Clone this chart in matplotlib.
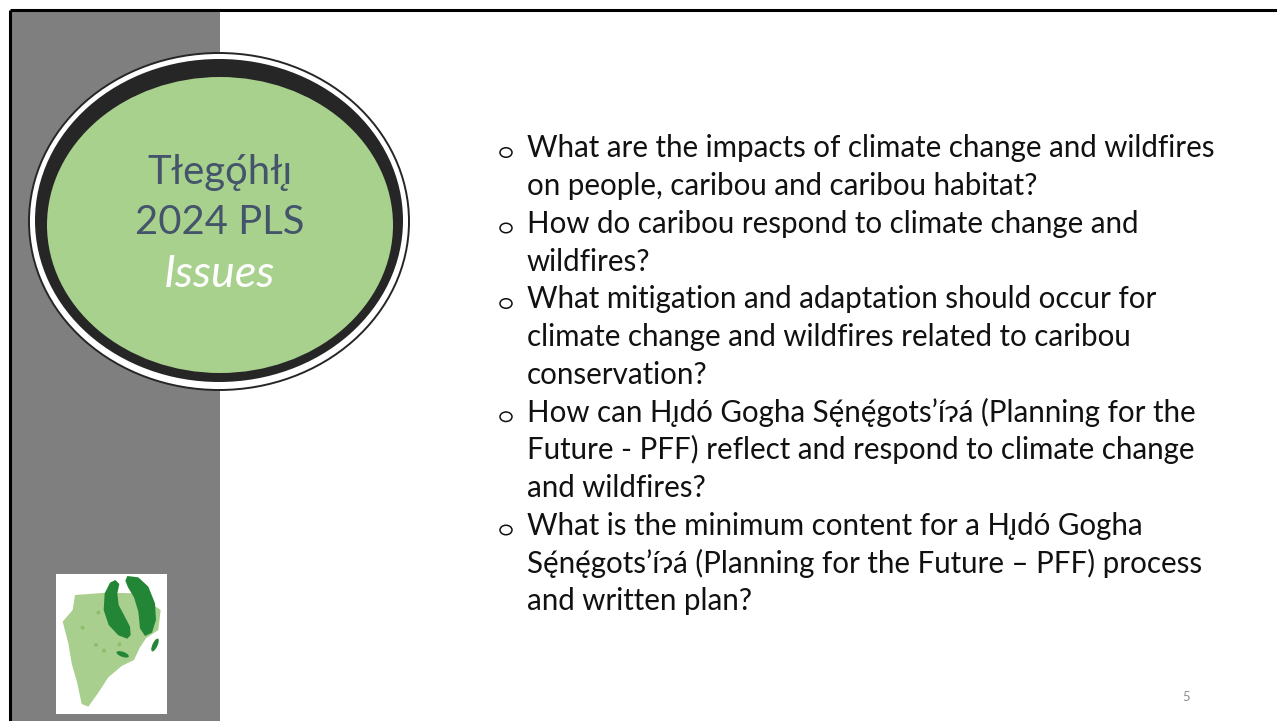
import matplotlib.pyplot as plt
from matplotlib.patches import Rectangle, Ellipse, Polygon

# slide content
title_lines = ["Tłeg\u01eb\u0301hłı\u0328", "2024 PLS"]
title_italic = "Issues"
body_lines = [
    "What are the impacts of climate change and wildfires",
    "on people, caribou and caribou habitat?",
    "How do caribou respond to climate change and",
    "wildfires?",
    "What mitigation and adaptation should occur for",
    "climate change and wildfires related to caribou",
    "conservation?",
    "How can Hı\u0328dó Gogha Se\u0328\u0301ne\u0328\u0301gots\u2019í\u0242á (Planning for the",
    "Future - PFF) reflect and respond to climate change",
    "and wildfires?",
    "What is the minimum content for a Hı\u0328dó Gogha",
    "Se\u0328\u0301ne\u0328\u0301gots\u2019í\u0242á (Planning for the Future \u2013 PFF) process",
    "and written plan?",
]
bullet_rows = [0, 2, 4, 7, 10]
page_no = "5"

fonts = ['Lato', 'Noto Sans', 'DejaVu Sans']

W, H = 1277, 721
fig = plt.figure(figsize=(W / 100, H / 100), dpi=100)
ax = fig.add_axes([0, 0, 1, 1])
ax.set_xlim(0, W)
ax.set_ylim(H, 0)
ax.axis('off')

# frame and grey band
ax.add_patch(Rectangle((11, 11), 209, H, facecolor='#7f7f7f', edgecolor='none'))
ax.plot([9.5, W], [9.5, 9.5], color='black', lw=2.2, solid_capstyle='butt')
ax.plot([10, 10], [9.5, H], color='black', lw=2.2, solid_capstyle='butt')

# title ellipse
ax.add_patch(Ellipse((219, 221.5), 380, 337, facecolor='white', edgecolor='#262626', lw=1.4))
ax.add_patch(Ellipse((219, 220.5), 368, 323, facecolor='#262626', edgecolor='none'))
ax.add_patch(Ellipse((220, 225), 346, 296, facecolor='#a9d18e', edgecolor='none'))

px = 72 / 100
ax.text(220, 184, title_lines[0], family=fonts, fontsize=40 * px,
        color='#44546a', ha='center', va='baseline')
ax.text(220, 234, title_lines[1], family=fonts, fontsize=40 * px,
        color='#44546a', ha='center', va='baseline')
ax.text(219, 287, title_italic, family=fonts, style='italic', fontsize=45 * px,
        color='white', ha='center', va='baseline')

# logo
ax.add_patch(Rectangle((56, 574), 111, 140, facecolor='white', edgecolor='none'))
land = [(105, 105), (200, 98), (290, 100), (362, 150), (355, 210), (318, 235),
        (300, 262), (282, 300), (245, 318), (205, 352), (175, 398), (145, 440),
        (125, 432), (112, 370), (95, 310), (85, 250), (68, 185), (98, 150)]
ax.add_patch(Polygon([(40 + x / 3, 560 + y / 3) for x, y in land],
                     facecolor='#a9cf8f', edgecolor='none'))
hoof_l = [(226, 60), (238, 72), (232, 100), (236, 135), (252, 165), (270, 200),
          (272, 225), (262, 236), (235, 226), (206, 195), (191, 150), (194, 100),
          (210, 68)]
hoof_r = [(262, 48), (295, 52), (325, 80), (345, 130), (348, 180), (336, 218),
          (315, 228), (300, 205), (295, 155), (282, 112), (264, 82), (256, 62)]
for shp in (hoof_l, hoof_r):
    ax.add_patch(Polygon([(40 + x / 3, 560 + y / 3) for x, y in shp],
                         facecolor='#238636', edgecolor='none'))
ax.add_patch(Ellipse((40 + 345 / 3, 560 + 255 / 3), 5, 14, angle=25,
                     facecolor='#238636', edgecolor='none'))
ax.add_patch(Ellipse((40 + 248 / 3, 560 + 283 / 3), 13, 5, angle=20,
                     facecolor='#238636', edgecolor='none'))
for x, y in [(175, 158), (128, 203), (168, 255), (192, 272), (238, 253)]:
    ax.add_patch(Ellipse((40 + x / 3, 560 + y / 3), 4, 4, facecolor='#8cbf6c',
                         edgecolor='none'))

# body text, size fitted to the first line's width
renderer = fig.canvas.get_renderer()
probe = ax.text(527, 157, body_lines[0], family=fonts, fontsize=20, va='baseline')
w = probe.get_window_extent(renderer).width
probe.remove()
body_size = 20 * 689 / w

base0, step = 157.3, 37.75
for i, line in enumerate(body_lines):
    y = base0 + i * step
    ax.text(527, y, line, family=fonts, fontsize=body_size, color='#111111', va='baseline')
    if i in bullet_rows:
        # hollow "o" bullet
        ax.add_patch(Ellipse((506, y - 4.8), 12, 9.5, facecolor='none',
                             edgecolor='#111111', lw=1.1))

ax.text(1186, 701, page_no, family=fonts, fontsize=13 * px, color='#8c8c8c',
        ha='center', va='baseline')

fig.savefig('out.png', dpi=100)
